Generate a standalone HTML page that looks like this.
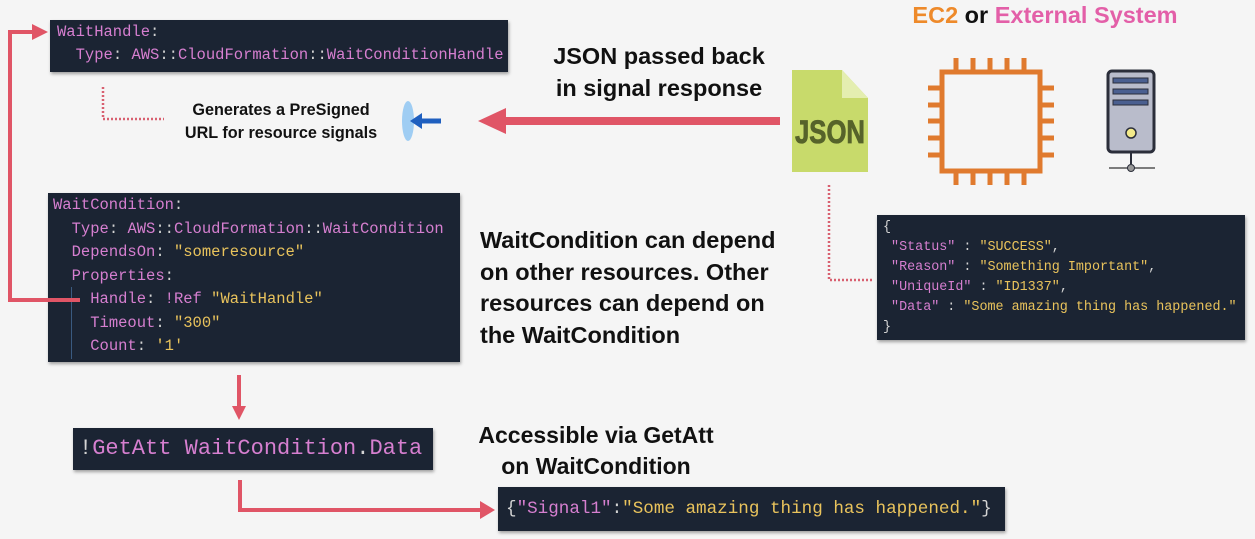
<!DOCTYPE html>
<html><head><meta charset="utf-8"><style>
*{margin:0;padding:0;box-sizing:border-box}
body{width:1255px;height:539px;background:#f5f5f5;position:relative;overflow:hidden;font-family:"Liberation Sans",sans-serif}
.code{position:absolute;background:#1b2433;font-family:"Liberation Mono",monospace;color:#d4d4d4;white-space:pre;box-shadow:1px 2px 3px rgba(0,0,0,.35)}
.p{color:#d67fd0}.y{color:#e9c35c}.w{color:#d8d8d8}
.t{position:absolute;font-weight:bold;color:#111;white-space:nowrap}
</style></head><body>

<div class="code" style="left:50px;top:20px;width:458px;height:52px;font-size:15.5px;line-height:23px;padding:1px 0 0 7px"><span class="p">WaitHandle</span>:
  <span class="p">Type</span>: <span class="p">AWS</span>::<span class="p">CloudFormation</span>::<span class="p">WaitConditionHandle</span></div>

<div class="code" style="left:48px;top:193px;width:412px;height:169px;font-size:15.5px;line-height:23.5px;padding:1px 0 0 5px"><span class="p">WaitCondition</span>:
  <span class="p">Type</span>: <span class="p">AWS</span>::<span class="p">CloudFormation</span>::<span class="p">WaitCondition</span>
  <span class="p">DependsOn</span>: <span class="y">"someresource"</span>
  <span class="p">Properties</span>:
    <span class="p">Handle</span>: <span class="p">!Ref</span> <span class="y">"WaitHandle"</span>
    <span class="p">Timeout</span>: <span class="y">"300"</span>
    <span class="p">Count</span>: <span class="y">'1'</span></div>
<div style="position:absolute;left:71px;top:287px;width:1px;height:72px;background:#3a5a80"></div>

<div class="code" style="left:877px;top:215px;width:368px;height:125px;font-size:13.4px;line-height:20px;padding:3px 0 0 6px">{
 <span class="p">"Status"</span> : <span class="y">"SUCCESS"</span>,
 <span class="p">"Reason"</span> : <span class="y">"Something Important"</span>,
 <span class="p">"UniqueId"</span> : <span class="y">"ID1337"</span>,
 <span class="p">"Data"</span> : <span class="y">"Some amazing thing has happened."</span>
}</div>

<div class="code" style="left:73px;top:428px;width:360px;height:42px;font-size:22px;line-height:42px;padding-left:6px">!<span class="p">GetAtt WaitCondition</span>.<span class="p">Data</span></div>

<div class="code" style="left:498px;top:487px;width:507px;height:44px;font-size:17.6px;line-height:44px;padding-left:8px">{<span class="p">"Signal1"</span>:<span class="y">"Some amazing thing has happened."</span>}</div>

<div class="t" style="left:549px;top:40px;font-size:23.5px;line-height:32px;text-align:center;width:220px">JSON passed back<br>in signal response</div>
<div class="t" style="left:480px;top:225px;font-size:23.5px;line-height:31.5px">WaitCondition can depend<br>on other resources. Other<br>resources can depend on<br>the WaitCondition</div>
<div class="t" style="left:446px;top:420px;font-size:23px;line-height:31px;text-align:center;width:300px">Accessible via GetAtt<br>on WaitCondition</div>
<div class="t" style="left:160px;top:99px;font-size:16.2px;line-height:23px;text-align:center;width:242px">Generates a PreSigned<br>URL for resource signals</div>
<div class="t" style="left:890px;top:2px;font-size:23.5px;width:310px;text-align:center"><span style="color:#ee8a2a">EC2</span> or <span style="color:#e35fa8">External System</span></div>

<svg width="1255" height="539" style="position:absolute;left:0;top:0">
<g stroke="#e05566" stroke-width="4" fill="none">
<polyline points="80,300 10,300 10,32 36,32"/>
<line x1="239" y1="375" x2="239" y2="408"/>
<polyline points="240,480 240,510 482,510"/>
<line x1="780" y1="121" x2="500" y2="121" stroke-width="8"/>
</g>
<g fill="#e05566">
<polygon points="48,32 32,24 32,40"/>
<polygon points="239,420 232,406 246,406"/>
<polygon points="495,510 480,501 480,519"/>
<polygon points="478,121 506,108 506,134"/>
</g>
<g stroke="#d86070" stroke-width="2.5" stroke-dasharray="2,2" fill="none">
<polyline points="103,87 103,119 164,119"/>
<polyline points="829,185 829,280 872,280"/>
</g>
<ellipse cx="408" cy="121" rx="6" ry="20" fill="#9fcdf3"/>
<line x1="441" y1="121" x2="420" y2="121" stroke="#1f5fbf" stroke-width="5"/>
<polygon points="410,121 422,113 422,129" fill="#1f5fbf"/>
<polygon points="792,70 842,70 868,98 868,172 792,172" fill="#c8da6b"/>
<polygon points="842,70 868,98 842,98" fill="#e4eeb0"/>
<text x="830" y="143" font-family="Liberation Sans Narrow,Liberation Sans,sans-serif" font-weight="bold" font-size="32" fill="#56632a" stroke="#56632a" stroke-width="0.8" text-anchor="middle" textLength="70" lengthAdjust="spacingAndGlyphs">JSON</text>
<g stroke="#e07a2e" stroke-width="5" fill="none">
<rect x="942" y="72" width="98" height="99"/>
<path d="M956,58v14M973,58v14M990,58v14M1007,58v14M1024,58v14M956,171v14M973,171v14M990,171v14M1007,171v14M1024,171v14M928,88h14M928,105h14M928,121h14M928,138h14M928,155h14M1040,88h14M1040,105h14M1040,121h14M1040,138h14M1040,155h14"/>
</g>
<rect x="1108" y="71" width="46" height="81" rx="4" fill="#b9bccb" stroke="#2b2e3a" stroke-width="3"/>
<rect x="1113" y="78" width="35" height="5" fill="#4a5f90" stroke="#2b2e3a"/>
<rect x="1113" y="89" width="35" height="5" fill="#4a5f90" stroke="#2b2e3a"/>
<rect x="1113" y="100" width="35" height="5" fill="#4a5f90" stroke="#2b2e3a"/>
<circle cx="1131" cy="133" r="5" fill="#f3ea8a" stroke="#2b2e3a" stroke-width="1.5"/>
<line x1="1131" y1="152" x2="1131" y2="164" stroke="#2b2e3a" stroke-width="2"/>
<line x1="1109" y1="168" x2="1155" y2="168" stroke="#555" stroke-width="1.5"/>
<circle cx="1131" cy="168" r="3.5" fill="#999" stroke="#2b2e3a"/>
</svg>
</body></html>
